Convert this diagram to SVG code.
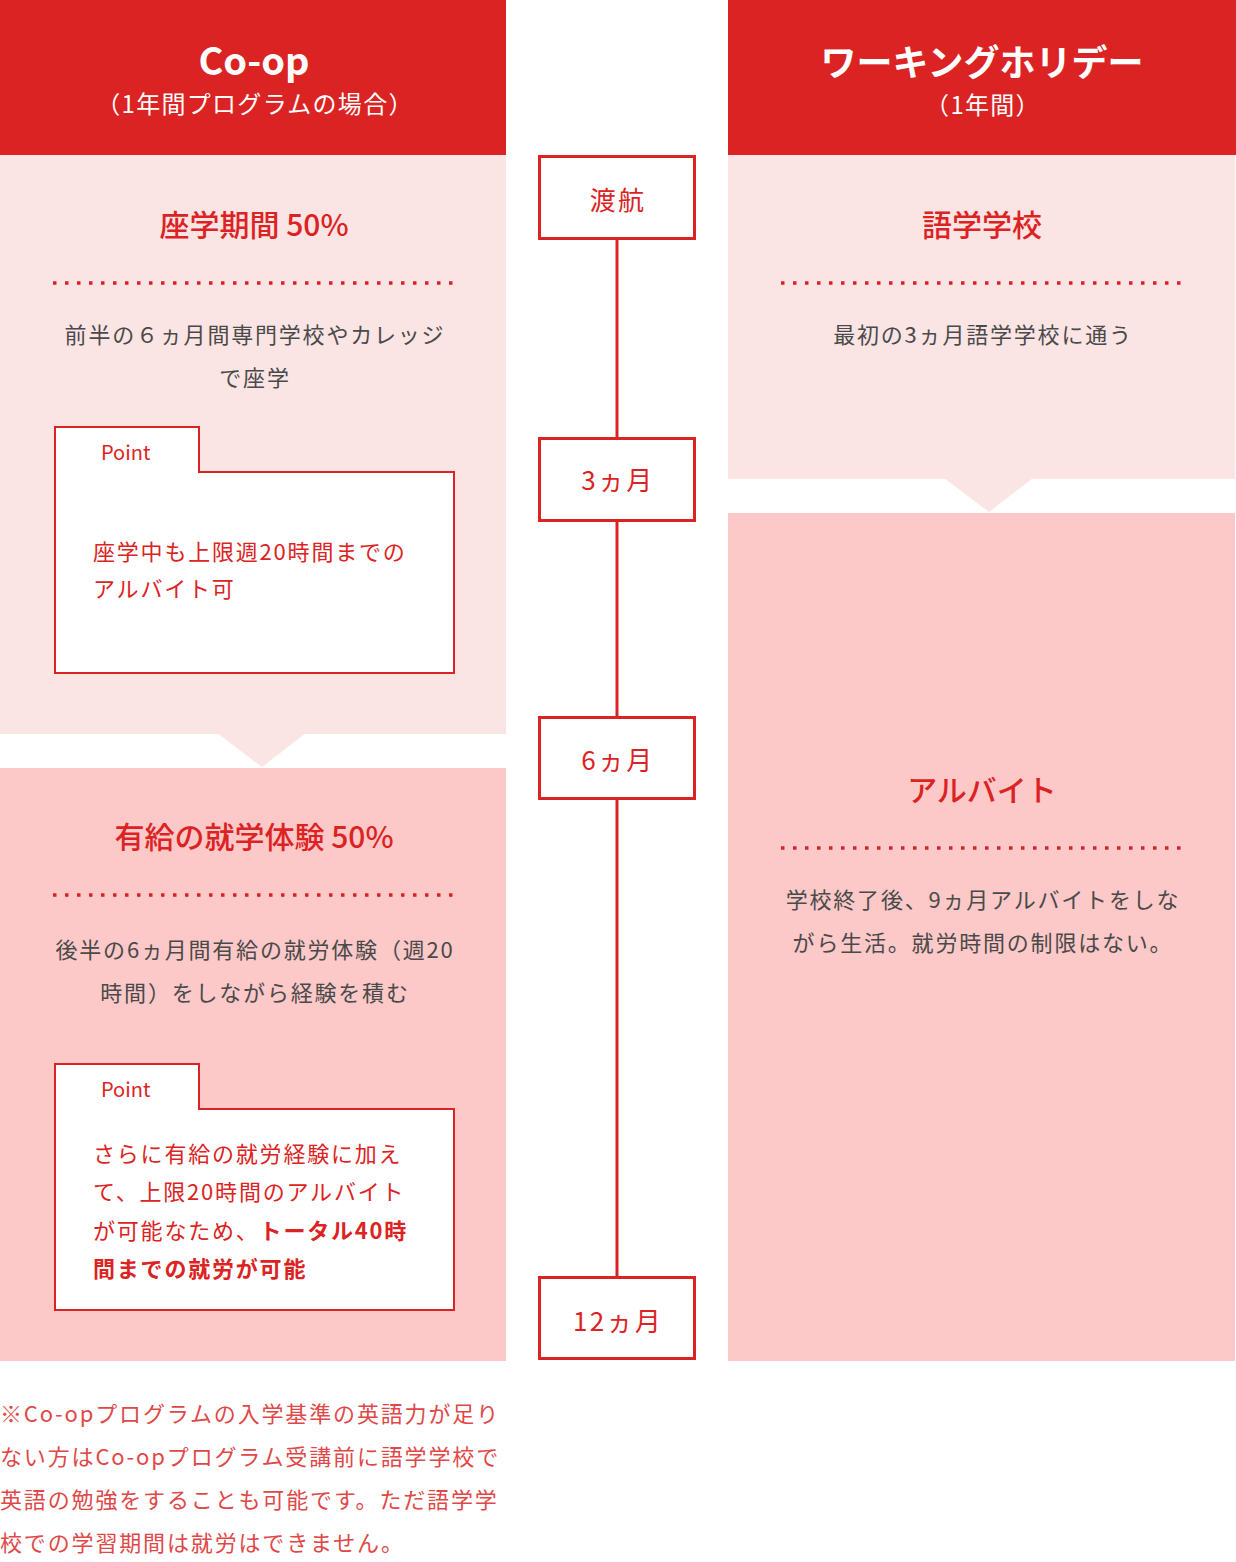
<svg xmlns="http://www.w3.org/2000/svg" width="1236" height="1562" viewBox="0 0 1236 1562">
<style>
text{font-family:"Noto Sans CJK JP","Noto Sans",sans-serif}
.hd{fill:#DC2323}
.light{fill:#FBE4E4}
.pink{fill:#FCC8C8}
.htitle{fill:#fff;font-weight:700;text-anchor:middle}
.hsub{fill:#fff;font-size:24px;letter-spacing:1.3px;text-anchor:middle}
.title{fill:#DC2323;font-size:30px;text-anchor:middle;font-weight:500}
.body{fill:#4A4A4A;font-size:22px;letter-spacing:1.8px;text-anchor:middle}
.dots{stroke:#DC2323;stroke-width:3.5;stroke-dasharray:3.5 8.5;fill:none}
.pt{fill:#fff;stroke:#DC2323;stroke-width:2}
.ptl{fill:#DC2323;font-size:20px}
.ptt{fill:#DC2323;font-size:22px;letter-spacing:1.8px}
.tbox{fill:#fff;stroke:#DC2323;stroke-width:3}
.tl{fill:#DC2323;font-size:26px;letter-spacing:2.3px;text-anchor:middle}
.conn{stroke:#DC2323;stroke-width:3;fill:none}
.note{fill:#E04848;font-size:22px;letter-spacing:1.85px}
</style>
<rect width="1236" height="1562" fill="#fff"/>

<g id="coop-header">
<rect class="hd" x="0" y="0" width="506" height="155"/>
<text class="htitle" x="254" y="75" font-size="38">Co-op</text>
<text class="hsub" x="255" y="113">（1年間プログラムの場合）</text>
</g>

<g id="coop-study">
<rect class="light" x="0" y="155" width="506" height="579"/>
<polygon class="light" points="217,733 262,767 306,733"/>
<text class="title" x="254" y="236">座学期間 50%</text>
<line class="dots" x1="53" y1="283" x2="456" y2="283"/>
<text class="body" x="255" y="343">前半の６ヵ月間専門学校やカレッジ</text>
<text class="body" x="255" y="386">で座学</text>
</g>

<g id="coop-point1">
<path class="pt" d="M55,427 H199 V472 H454 V673 H55 Z"/>
<text class="ptl" x="101" y="460">Point</text>
<text class="ptt" x="93" y="560">座学中も上限週20時間までの</text>
<text class="ptt" x="93" y="597">アルバイト可</text>
</g>

<g id="coop-work">
<rect class="pink" x="0" y="768" width="506" height="593"/>
<text class="title" x="254" y="848">有給の就学体験 50%</text>
<line class="dots" x1="53" y1="895" x2="456" y2="895"/>
<text class="body" x="255" y="958">後半の6ヵ月間有給の就労体験（週20</text>
<text class="body" x="255" y="1001">時間）をしながら経験を積む</text>
</g>

<g id="coop-point2">
<path class="pt" d="M55,1064 H199 V1109 H454 V1310 H55 Z"/>
<text class="ptl" x="101" y="1097">Point</text>
<text class="ptt" x="93" y="1162">さらに有給の就労経験に加え</text>
<text class="ptt" x="93" y="1200">て、上限20時間のアルバイト</text>
<text class="ptt" x="93" y="1239">が可能なため、<tspan font-weight="700">トータル40時</tspan></text>
<text class="ptt" x="93" y="1277" font-weight="700">間までの就労が可能</text>
</g>

<g id="coop-note">
<text class="note" x="0" y="1422">※Co-opプログラムの入学基準の英語力が足り</text>
<text class="note" x="0" y="1465">ない方はCo-opプログラム受講前に語学学校で</text>
<text class="note" x="0" y="1508">英語の勉強をすることも可能です。ただ語学学</text>
<text class="note" x="0" y="1551">校での学習期間は就労はできません。</text>
</g>

<g id="wh-header">
<rect class="hd" x="728" y="0" width="508" height="155"/>
<text class="htitle" x="982" y="76" font-size="36">ワーキングホリデー</text>
<text class="hsub" x="983" y="114">（1年間）</text>
</g>

<g id="wh-school">
<rect class="light" x="728" y="155" width="507" height="324"/>
<polygon class="light" points="944,478 989,512 1033,478"/>
<text class="title" x="982" y="236">語学学校</text>
<line class="dots" x1="781" y1="283" x2="1184" y2="283"/>
<text class="body" x="983" y="343">最初の3ヵ月語学学校に通う</text>
</g>

<g id="wh-work">
<rect class="pink" x="728" y="513" width="507" height="848"/>
<text class="title" x="982" y="801">アルバイト</text>
<line class="dots" x1="781" y1="848" x2="1184" y2="848"/>
<text class="body" x="983" y="908">学校終了後、9ヵ月アルバイトをしな</text>
<text class="body" x="983" y="951">がら生活。就労時間の制限はない。</text>
</g>

<g id="connectors">
<line class="conn" x1="617" y1="239" x2="617" y2="437"/>
<line class="conn" x1="617" y1="521" x2="617" y2="717"/>
<line class="conn" x1="617" y1="799" x2="617" y2="1277"/>
</g>

<g id="t-departure">
<rect class="tbox" x="539.5" y="156.5" width="155" height="82"/>
<text class="tl" x="618" y="210">渡航</text>
</g>
<g id="t-3m">
<rect class="tbox" x="539.5" y="438.5" width="155" height="82"/>
<text class="tl" x="618" y="490">3ヵ月</text>
</g>
<g id="t-6m">
<rect class="tbox" x="539.5" y="717.5" width="155" height="81"/>
<text class="tl" x="618" y="770">6ヵ月</text>
</g>
<g id="t-12m">
<rect class="tbox" x="539.5" y="1277.5" width="155" height="81"/>
<text class="tl" x="618" y="1331">12ヵ月</text>
</g>
</svg>
